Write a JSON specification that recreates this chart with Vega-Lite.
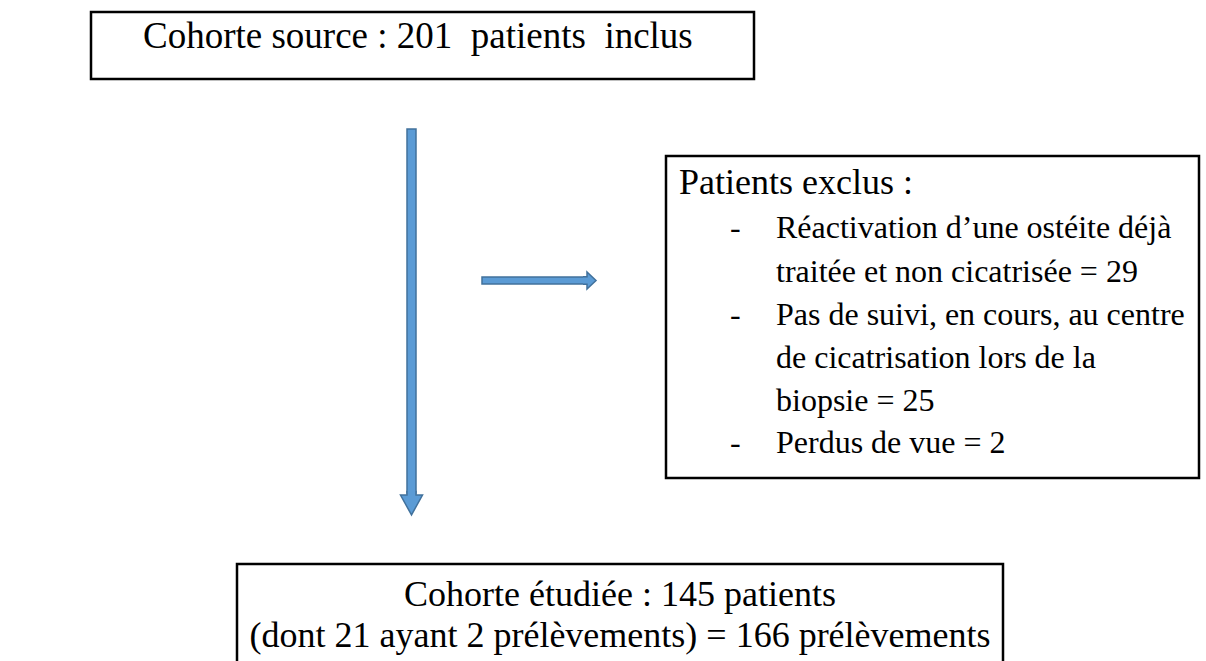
{
  "$schema": "https://vega.github.io/schema/vega-lite/v6.json",
  "width": 1206,
  "height": 661,
  "autosize": {"type": "fit", "contains": "padding"},
  "padding": 0,
  "background": "white",
  "config": {"view": {"stroke": null}},
  "datasets": {
    "boxes": [
      {"box": "Cohorte source", "x": 91, "x2": 754, "y": 12, "y2": 79},
      {"box": "Patients exclus", "x": 666, "x2": 1199, "y": 156, "y2": 478},
      {"box": "Cohorte étudiée", "x": 237, "x2": 1003, "y": 564, "y2": 720}
    ],
    "shafts": [
      {"arrow": "inclusion", "x": 407, "x2": 416, "y": 129, "y2": 493},
      {"arrow": "exclusion", "x": 482, "x2": 586, "y": 277, "y2": 284}
    ],
    "headDown": [{"arrow": "inclusion", "x": 411.5, "y": 505}],
    "headRight": [{"arrow": "exclusion", "x": 591.5, "y": 280.5}],
    "titles": [
      {"text": "Cohorte source : 201\u00a0 patients\u00a0 inclus", "x": 143, "y": 37}
    ],
    "heading": [
      {"text": "Patients exclus :", "x": 679, "y": 183}
    ],
    "dashes": [
      {"text": "-", "x": 730, "y": 228},
      {"text": "-", "x": 730, "y": 315},
      {"text": "-", "x": 730, "y": 443}
    ],
    "items": [
      {"text": "Réactivation d’une ostéite déjà", "x": 776, "y": 228},
      {"text": "traitée et non cicatrisée = 29", "x": 776, "y": 272},
      {"text": "Pas de suivi, en cours, au centre", "x": 776, "y": 315},
      {"text": "de cicatrisation lors de la", "x": 776, "y": 358},
      {"text": "biopsie = 25", "x": 776, "y": 401},
      {"text": "Perdus de vue = 2", "x": 776, "y": 443}
    ],
    "bottom": [
      {"text": "Cohorte étudiée : 145 patients", "x": 620, "y": 595},
      {"text": "(dont 21 ayant 2 prélèvements) = 166 prélèvements", "x": 620, "y": 636}
    ]
  },
  "encoding": {
    "x": {"field": "x", "type": "quantitative", "scale": {"domain": [0, 1206], "nice": false, "zero": false}, "axis": null},
    "y": {"field": "y", "type": "quantitative", "scale": {"domain": [0, 661], "nice": false, "zero": false, "reverse": true}, "axis": null}
  },
  "layer": [
    {
      "data": {"name": "boxes"},
      "mark": {"type": "rect", "fill": "white", "stroke": "black", "strokeWidth": 2.5, "clip": true},
      "encoding": {"x2": {"field": "x2"}, "y2": {"field": "y2"}}
    },
    {
      "data": {"name": "shafts"},
      "mark": {"type": "rect", "fill": "#5B9BD5", "stroke": "#41719C", "strokeWidth": 1.5},
      "encoding": {"x2": {"field": "x2"}, "y2": {"field": "y2"}}
    },
    {
      "data": {"name": "headDown"},
      "mark": {"type": "point", "filled": true, "opacity": 1, "fill": "#5B9BD5", "stroke": "#41719C", "strokeWidth": 1.5, "size": 484,
        "shape": "M-0.41,-1.3L-0.41,-0.9L-1,-0.9L0,0.9L1,-0.9L0.41,-0.9L0.41,-1.3"}
    },
    {
      "data": {"name": "headRight"},
      "mark": {"type": "point", "filled": true, "opacity": 1, "fill": "#5B9BD5", "stroke": "#41719C", "strokeWidth": 1.5, "size": 289,
        "shape": "M-1,-0.45L-0.53,-0.45L-0.53,-1L0.53,0L-0.53,1L-0.53,0.45L-1,0.45"}
    },
    {
      "data": {"name": "titles"},
      "mark": {"type": "text", "align": "left", "baseline": "middle", "font": "'Liberation Serif', 'Times New Roman', 'DejaVu Serif', serif", "fontSize": 37, "color": "black"},
      "encoding": {"text": {"field": "text"}}
    },
    {
      "data": {"name": "heading"},
      "mark": {"type": "text", "align": "left", "baseline": "middle", "font": "'Liberation Serif', 'Times New Roman', 'DejaVu Serif', serif", "fontSize": 36, "color": "black"},
      "encoding": {"text": {"field": "text"}}
    },
    {
      "data": {"name": "dashes"},
      "mark": {"type": "text", "align": "left", "baseline": "middle", "font": "'Liberation Serif', 'Times New Roman', 'DejaVu Serif', serif", "fontSize": 32, "color": "black"},
      "encoding": {"text": {"field": "text"}}
    },
    {
      "data": {"name": "items"},
      "mark": {"type": "text", "align": "left", "baseline": "middle", "font": "'Liberation Serif', 'Times New Roman', 'DejaVu Serif', serif", "fontSize": 32, "color": "black"},
      "encoding": {"text": {"field": "text"}}
    },
    {
      "data": {"name": "bottom"},
      "mark": {"type": "text", "align": "center", "baseline": "middle", "font": "'Liberation Serif', 'Times New Roman', 'DejaVu Serif', serif", "fontSize": 36, "color": "black"},
      "encoding": {"text": {"field": "text"}}
    }
  ]
}
